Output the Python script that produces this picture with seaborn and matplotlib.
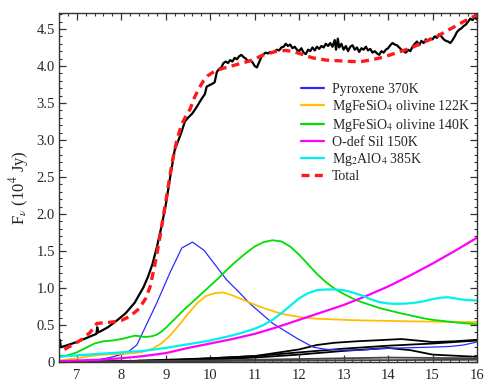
import numpy as np
import pandas as pd
import matplotlib
matplotlib.use("Agg")
import matplotlib.pyplot as plt
import seaborn as sns
from matplotlib.ticker import MultipleLocator, FuncFormatter

# ---------------- data ----------------
obs_x = [6.62, 6.64, 6.7, 6.8, 7.0, 7.2, 7.4, 7.44, 7.46, 7.48, 7.55, 7.7, 7.9, 8.1, 8.3, 8.5, 8.6, 8.7, 8.8, 8.9,
         9.0, 9.1, 9.2, 9.3, 9.35, 9.43, 9.5, 9.6, 9.7, 9.8, 9.88, 9.92, 9.98, 10.05, 10.1, 10.15, 10.2, 10.25, 10.3, 10.35,
         10.4, 10.45, 10.5, 10.55, 10.6, 10.65, 10.7, 10.75, 10.8, 10.85, 10.9, 10.95, 11.0, 11.05, 11.1, 11.15, 11.2, 11.25, 11.3, 11.35,
         11.4, 11.45, 11.5, 11.55, 11.6, 11.65, 11.7, 11.75, 11.8, 11.85, 11.9, 11.95, 12.0, 12.05, 12.1, 12.15, 12.2, 12.25, 12.3, 12.35,
         12.4, 12.45, 12.5, 12.55, 12.6, 12.65, 12.7, 12.75, 12.8, 12.83, 12.87, 12.9, 12.95, 13.0, 13.05, 13.1, 13.15, 13.2, 13.25, 13.3,
         13.35, 13.4, 13.45, 13.5, 13.55, 13.6, 13.65, 13.7, 13.75, 13.8, 13.85, 13.9, 13.95, 14.0, 14.05, 14.1, 14.15, 14.2, 14.25, 14.3,
         14.35, 14.4, 14.45, 14.5, 14.55, 14.6, 14.65, 14.7, 14.75, 14.8, 14.85, 14.9, 14.95, 15.0, 15.05, 15.1, 15.15, 15.2, 15.25, 15.3,
         15.35, 15.4, 15.45, 15.5, 15.55, 15.6, 15.65, 15.7, 15.75, 15.8, 15.85, 15.9, 15.95, 16.0]
obs_y = [0.30, 0.20, 0.21, 0.23, 0.27, 0.32, 0.37, 0.38, 0.47, 0.40, 0.42, 0.47, 0.56, 0.66, 0.80, 1.01, 1.15, 1.32, 1.55, 1.82,
         2.12, 2.50, 2.86, 3.02, 3.10, 3.25, 3.30, 3.36, 3.45, 3.55, 3.62, 3.72, 3.74, 3.76, 3.78, 3.92, 3.96, 3.98, 4.04, 4.06,
         4.04, 4.08, 4.06, 4.11, 4.09, 4.13, 4.15, 4.12, 4.10, 4.06, 4.08, 4.05, 4.00, 3.98, 4.05, 4.12, 4.16, 4.18, 4.17, 4.19,
         4.18, 4.20, 4.22, 4.21, 4.25, 4.26, 4.30, 4.27, 4.29, 4.24, 4.26, 4.22, 4.20, 4.24, 4.18, 4.16, 4.22, 4.20, 4.25, 4.21,
         4.26, 4.23, 4.27, 4.25, 4.30, 4.27, 4.31, 4.26, 4.35, 4.22, 4.37, 4.25, 4.30, 4.22, 4.27, 4.20, 4.26, 4.28, 4.22, 4.25,
         4.19, 4.24, 4.22, 4.26, 4.21, 4.23, 4.18, 4.20, 4.17, 4.15, 4.20, 4.18, 4.22, 4.24, 4.28, 4.31, 4.29, 4.28, 4.25, 4.22,
         4.20, 4.18, 4.22, 4.20, 4.26, 4.30, 4.33, 4.28, 4.34, 4.31, 4.36, 4.34, 4.37, 4.36, 4.40, 4.38, 4.43, 4.40, 4.36, 4.34,
         4.33, 4.31, 4.35, 4.40, 4.46, 4.49, 4.51, 4.54, 4.56, 4.60, 4.64, 4.62, 4.66, 4.63]

total_x = [6.72, 6.9, 7.1, 7.3, 7.45, 7.6, 7.8, 8.0, 8.2, 8.4, 8.55, 8.65, 8.75, 8.85, 8.95, 9.05, 9.15, 9.25, 9.35, 9.45,
           9.55, 9.65, 9.75, 9.85, 9.95, 10.1, 10.3, 10.6, 10.9, 11.2, 11.5, 11.7, 11.9, 12.1, 12.3, 12.6, 12.9, 13.2, 13.4, 13.6,
           13.9, 14.2, 14.5, 14.8, 15.1, 15.4, 15.7, 16.0]
total_y = [0.17, 0.23, 0.30, 0.40, 0.52, 0.53, 0.54, 0.56, 0.62, 0.72, 0.86, 1.02, 1.30, 1.62, 1.98, 2.35, 2.72, 3.00, 3.20, 3.32,
           3.42, 3.58, 3.70, 3.80, 3.87, 3.93, 3.97, 4.02, 4.07, 4.15, 4.20, 4.21, 4.19, 4.15, 4.11, 4.08, 4.07, 4.06, 4.06, 4.08,
           4.12, 4.18, 4.24, 4.32, 4.40, 4.50, 4.60, 4.69]

pyr_x = [7.4, 7.74, 8.12, 8.35, 8.8, 9.09, 9.36, 9.6, 9.86, 10.37, 10.67, 10.89, 11.41, 11.95, 12.32, 12.62, 13.0, 13.4, 13.82, 14.3, 14.94, 15.4, 15.7, 16.0]
pyr_y = [0.02, 0.06, 0.12, 0.23, 0.80, 1.20, 1.54, 1.62, 1.51, 1.11, 0.93, 0.79, 0.52, 0.32, 0.20, 0.17, 0.16, 0.16, 0.18, 0.19, 0.20, 0.21, 0.23, 0.27]

ol122_x = [6.6, 7.0, 7.3, 7.6, 8.0, 8.3, 8.5, 8.7, 8.9, 9.1, 9.3, 9.5, 9.7, 9.9, 10.1, 10.3, 10.5, 10.7, 10.9, 11.1,
           11.3, 11.5, 11.7, 11.9, 12.1, 12.4, 12.8, 13.2, 13.6, 14.0, 14.5, 15.0, 15.5, 16.0]
ol122_y = [0.02, 0.05, 0.08, 0.10, 0.11, 0.12, 0.14, 0.18, 0.25, 0.36, 0.50, 0.65, 0.79, 0.89, 0.93, 0.94, 0.90, 0.85, 0.80, 0.75,
           0.71, 0.67, 0.64, 0.62, 0.60, 0.585, 0.575, 0.565, 0.56, 0.555, 0.55, 0.545, 0.54, 0.54]

ol140_x = [6.6, 6.8, 7.0, 7.2, 7.4, 7.6, 7.8, 8.0, 8.2, 8.3, 8.4, 8.5, 8.6, 8.7, 8.8, 8.9, 9.0, 9.2, 9.4, 9.6,
           9.8, 10.0, 10.2, 10.4, 10.6, 10.8, 11.0, 11.2, 11.4, 11.6, 11.8, 12.0, 12.2, 12.4, 12.6, 12.8, 13.0, 13.2, 13.4, 13.6,
           13.8, 14.0, 14.2, 14.5, 14.8, 15.0, 15.3, 15.6, 16.0]
ol140_y = [0.07, 0.09, 0.13, 0.19, 0.25, 0.28, 0.29, 0.31, 0.34, 0.355, 0.35, 0.34, 0.34, 0.35, 0.37, 0.41, 0.46, 0.58, 0.70, 0.81,
           0.92, 1.03, 1.14, 1.26, 1.37, 1.47, 1.56, 1.62, 1.645, 1.63, 1.56, 1.45, 1.32, 1.19, 1.08, 0.99, 0.92, 0.86, 0.81, 0.77,
           0.73, 0.70, 0.67, 0.63, 0.59, 0.57, 0.55, 0.53, 0.51]

odef_x = [6.6, 7.0, 7.5, 8.0, 8.5, 9.0, 9.5, 10.0, 10.5, 11.0, 11.5, 12.0, 12.5, 13.0, 13.5, 14.0, 14.5, 15.0, 15.5, 16.0]
odef_y = [0.01, 0.02, 0.03, 0.05, 0.08, 0.12, 0.19, 0.25, 0.31, 0.38, 0.47, 0.57, 0.67, 0.77, 0.89, 1.02, 1.17, 1.33, 1.50, 1.68]

spinel_x = [6.6, 7.0, 7.5, 8.0, 8.5, 9.0, 9.5, 10.0, 10.5, 10.8, 11.0, 11.2, 11.4, 11.6, 11.8, 12.0, 12.2, 12.4, 12.6, 12.8,
            13.0, 13.2, 13.4, 13.6, 13.8, 14.0, 14.2, 14.4, 14.6, 14.8, 15.0, 15.2, 15.35, 15.5, 15.7, 16.0]
spinel_y = [0.07, 0.09, 0.11, 0.13, 0.15, 0.19, 0.24, 0.29, 0.36, 0.41, 0.45, 0.50, 0.57, 0.66, 0.76, 0.86, 0.93, 0.97, 0.98, 0.98,
            0.97, 0.94, 0.90, 0.85, 0.81, 0.79, 0.785, 0.79, 0.80, 0.82, 0.85, 0.87, 0.875, 0.86, 0.84, 0.83]

bk1_x = [6.6, 8.0, 10.0, 11.0, 12.0, 12.4, 12.8, 13.3, 14.3, 15.0, 15.5, 16.0]
bk1_y = [0.00, 0.01, 0.05, 0.08, 0.17, 0.23, 0.26, 0.28, 0.31, 0.27, 0.28, 0.30]
bk2_x = [6.6, 9.0, 10.0, 11.0, 12.0, 13.0, 14.0, 15.0, 16.0]
bk2_y = [0.00, 0.02, 0.05, 0.08, 0.13, 0.18, 0.22, 0.25, 0.29]
bk3_x = [6.6, 10.0, 11.0, 12.0, 13.0, 14.0, 14.5, 15.0, 16.0]
bk3_y = [0.00, 0.03, 0.06, 0.10, 0.15, 0.19, 0.16, 0.10, 0.07]
bk4_x = [6.6, 10.0, 12.0, 14.0, 16.0]
bk4_y = [0.00, 0.02, 0.04, 0.06, 0.05]
bk5_x = [6.6, 12.0, 16.0]
bk5_y = [0.00, 0.02, 0.03]

# ---------------- style ----------------
sns.set_theme(style="ticks")
plt.rcParams['font.family'] = ['Liberation Serif', 'DejaVu Serif']
plt.rcParams['mathtext.fontset'] = 'stix'

fig = plt.figure(figsize=(4.91, 3.90), dpi=100)
ax = fig.add_axes([0.1202, 0.0718, 0.8513, 0.8949])

for bx, by, c in [(bk1_x, bk1_y, 'black'), (bk2_x, bk2_y, 'black'), (bk3_x, bk3_y, 'black'),
                  (bk4_x, bk4_y, '#444444'), (bk5_x, bk5_y, '#444444')]:
    sns.lineplot(x=bx, y=by, ax=ax, color=c, lw=1.3, estimator=None, sort=False)

sns.lineplot(x=obs_x, y=obs_y, ax=ax, color='black', lw=1.6, estimator=None, sort=False)

series = [
    (pyr_x, pyr_y, '#2a2aff', 0.9, 'Pyroxene 370K'),
    (ol122_x, ol122_y, '#ffbf00', 1.3, 'MgFeSiO$_4$ olivine 122K'),
    (ol140_x, ol140_y, '#00dd00', 1.3, 'MgFeSiO$_4$ olivine 140K'),
    (odef_x, odef_y, '#ff00ff', 1.6, 'O-def Sil 150K'),
    (spinel_x, spinel_y, '#00f0f0', 1.6, 'Mg$_2$AlO$_4$ 385K'),
]
for sx, sy, c, lw, lab in series:
    sns.lineplot(x=sx, y=sy, ax=ax, color=c, lw=lw, estimator=None, sort=False, label=lab)

sns.lineplot(x=total_x, y=total_y, ax=ax, color='#ff1a1a', lw=2.4, estimator=None, sort=False,
             label='Total')
ax.lines[-1].set_dashes((2.4, 1.6))

ax.set_xlim(6.6, 16.0)
ax.set_ylim(0, 4.716)
ax.xaxis.set_major_locator(MultipleLocator(1))
ax.xaxis.set_minor_locator(MultipleLocator(0.2))
ax.yaxis.set_major_locator(MultipleLocator(0.5))
ax.yaxis.set_minor_locator(MultipleLocator(0.1))
ax.yaxis.set_major_formatter(FuncFormatter(lambda v, p: '0' if abs(v) < 1e-9 else f'{v:.1f}'))
ax.xaxis.set_major_formatter(FuncFormatter(lambda v, p: f'{v:.0f}'))
ax.tick_params(which='both', direction='in', top=True, right=True, color='#333333')
ax.tick_params(which='major', length=5, width=0.9, labelsize=10.5)
ax.tick_params(axis='y', which='major', pad=3)
ax.tick_params(axis='x', which='major', pad=5)
ax.tick_params(which='minor', length=2.5, width=0.8)
for s in ax.spines.values():
    s.set_color('#333333')
    s.set_linewidth(1.0)

ax.set_xlabel('')
ax.set_ylabel(r'F$_\nu$ (10$^4$ Jy)', fontsize=12)
ax.yaxis.set_label_coords(-0.068, 0.5)

leg = ax.legend(loc='upper left', bbox_to_anchor=(0.58, 0.80), frameon=False, fontsize=10,
                handlelength=1.6, handletextpad=0.6, labelspacing=0.15, borderaxespad=0, borderpad=0)
for h in leg.get_lines():
    h.set_linewidth(1.6)
leg.get_lines()[-1].set_linewidth(2.4)

fig.savefig('out.png', dpi=100)
